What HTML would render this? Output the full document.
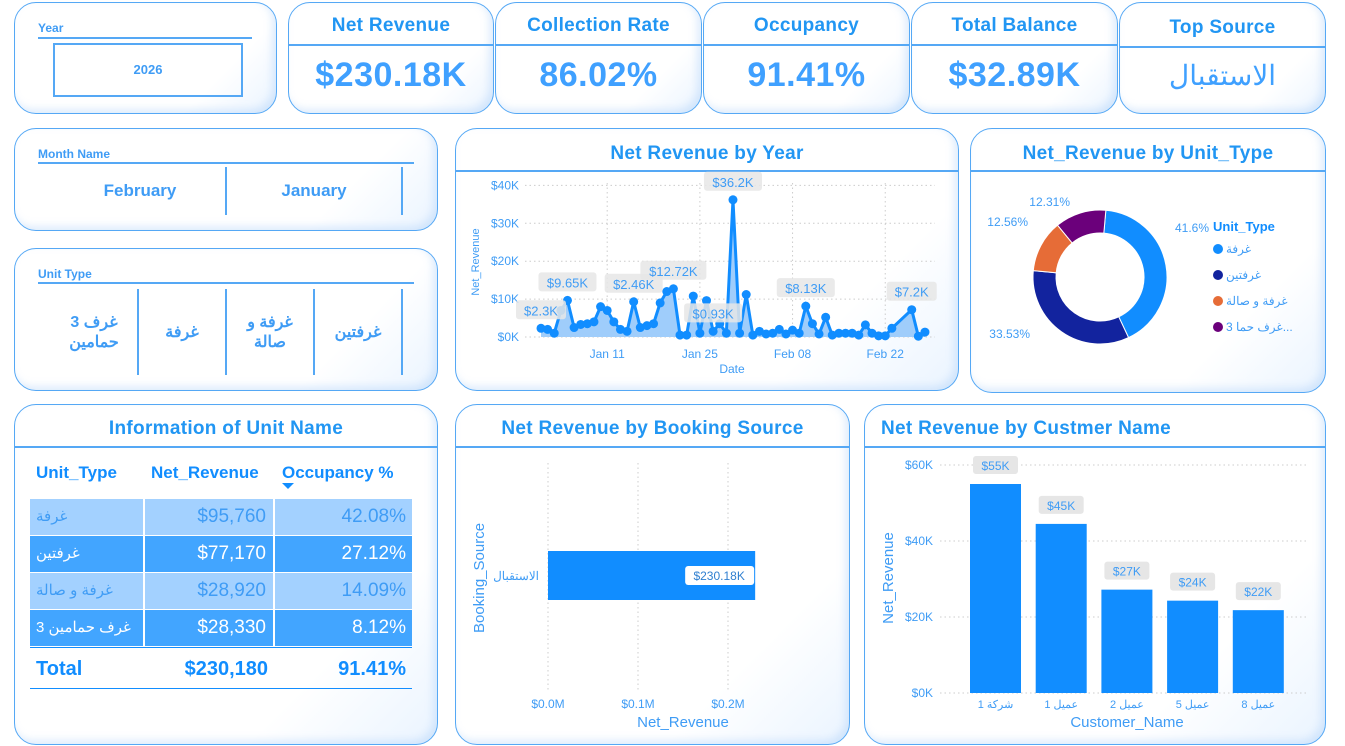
<!DOCTYPE html>
<html><head><meta charset="utf-8">
<style>
body{margin:0;width:1345px;height:746px;background:#fff;font-family:"Liberation Sans","Noto Sans CJK SC",sans-serif;overflow:hidden;position:relative}
.p{position:absolute;border:1.5px solid #55a8f5;border-radius:22px;background:linear-gradient(135deg,#fff 75%,#eaf4ff);box-shadow:inset -4px -4px 8px rgba(160,200,245,.35);box-sizing:border-box}
.ttl{position:absolute;left:0;right:0;text-align:center;font-weight:bold;color:#2196f3;font-size:19px;letter-spacing:0.3px}
.hl{position:absolute;left:0;right:0;height:1.5px;background:#55a8f5}
.kv{position:absolute;left:0;right:0;text-align:center;font-weight:bold;color:#3fa0ff;font-size:34px;letter-spacing:0.5px}
.sl{position:absolute;font-size:12px;font-weight:bold;color:#3f9cf5}
svg text{font-family:"Liberation Sans","Noto Sans CJK SC",sans-serif}
</style></head><body>

<div class="p" style="left:14px;top:2px;width:263px;height:112px">
 <div class="sl" style="left:23px;top:18px">Year</div>
 <div class="hl" style="left:23px;right:24px;top:34px"></div>
 <div style="position:absolute;left:38px;top:40px;width:190px;height:54px;border:2px solid #55a8f5;box-sizing:border-box;text-align:center;line-height:50px;font-weight:bold;font-size:13px;color:#3f9cf5">2026</div>
</div>

<div class="p" style="left:288px;top:2px;width:206px;height:112px"><div class="ttl" style="top:12px">Net Revenue</div><div class="hl" style="top:41px"></div><div class="kv" style="top:53px">$230.18K</div></div>
<div class="p" style="left:495px;top:2px;width:207px;height:112px"><div class="ttl" style="top:12px">Collection Rate</div><div class="hl" style="top:41px"></div><div class="kv" style="top:53px">86.02%</div></div>
<div class="p" style="left:703px;top:2px;width:207px;height:112px"><div class="ttl" style="top:12px">Occupancy</div><div class="hl" style="top:41px"></div><div class="kv" style="top:53px">91.41%</div></div>
<div class="p" style="left:911px;top:2px;width:207px;height:112px"><div class="ttl" style="top:12px">Total Balance</div><div class="hl" style="top:41px"></div><div class="kv" style="top:53px">$32.89K</div></div>
<div class="p" style="left:1119px;top:2px;width:207px;height:112px"><div class="ttl" style="top:14px">Top Source</div><div class="hl" style="top:43px"></div><div class="kv" style="top:56px;font-weight:normal;font-size:28px">الاستقبال</div></div>

<div class="p" style="left:14px;top:128px;width:424px;height:103px">
 <div class="sl" style="left:23px;top:18px">Month Name</div>
 <div class="hl" style="left:23px;right:23px;top:33px"></div>
 <div style="position:absolute;left:40px;top:38px;width:170px;height:48px;line-height:48px;text-align:center;font-weight:bold;font-size:17px;color:#3f9cf5;border-right:2px solid #55a8f5">February</div>
 <div style="position:absolute;left:212px;top:38px;width:174px;height:48px;line-height:48px;text-align:center;font-weight:bold;font-size:17px;color:#3f9cf5;border-right:2px solid #55a8f5">January</div>
</div>

<div class="p" style="left:14px;top:248px;width:424px;height:143px">
 <div class="sl" style="left:23px;top:18px">Unit Type</div>
 <div class="hl" style="left:23px;right:23px;top:33px"></div>
 <div style="position:absolute;left:36px;top:40px;width:86px;height:86px;display:flex;align-items:center;justify-content:center;text-align:center;font-weight:bold;font-size:16px;color:#3f9cf5;border-right:2px solid #55a8f5">غرف 3<br>حمامين</div>
 <div style="position:absolute;left:124px;top:40px;width:86px;height:86px;display:flex;align-items:center;justify-content:center;font-weight:bold;font-size:16px;color:#3f9cf5;border-right:2px solid #55a8f5">غرفة</div>
 <div style="position:absolute;left:212px;top:40px;width:86px;height:86px;display:flex;align-items:center;justify-content:center;text-align:center;font-weight:bold;font-size:16px;color:#3f9cf5;border-right:2px solid #55a8f5">غرفة و<br>صالة</div>
 <div style="position:absolute;left:300px;top:40px;width:86px;height:86px;display:flex;align-items:center;justify-content:center;font-weight:bold;font-size:16px;color:#3f9cf5;border-right:2px solid #55a8f5">غرفتين</div>
</div>

<div class="p" style="left:455px;top:128px;width:504px;height:263px">
 <div class="ttl" style="top:14px">Net Revenue by Year</div><div class="hl" style="top:41px"></div>
</div>
<div class="p" style="left:970px;top:128px;width:356px;height:265px">
 <div class="ttl" style="top:14px">Net_Revenue by Unit_Type</div><div class="hl" style="top:41px"></div>
</div>

<div class="p" style="left:14px;top:404px;width:424px;height:341px">
 <div class="ttl" style="top:13px">Information of Unit Name</div><div class="hl" style="top:41px"></div>
</div>
<div style="position:absolute;left:30px;top:458px;width:382px;font-size:19px">
 <div style="height:40px;font-weight:bold;color:#118dff;font-size:17px;position:relative">
  <span style="position:absolute;left:6px;top:5px">Unit_Type</span><span style="position:absolute;left:121px;top:5px">Net_Revenue</span><span style="position:absolute;left:252px;top:5px">Occupancy %</span>
  <span style="position:absolute;left:252px;top:25px;width:0;height:0;border-left:6px solid transparent;border-right:6px solid transparent;border-top:6px solid #118dff"></span>
 </div>
 <div id="rows"></div>
 <div style="height:1px;background:#118dff"></div>
 <div style="height:40px;position:relative;font-weight:bold;color:#118dff;font-size:20px">
  <span style="position:absolute;left:6px;top:10px">Total</span><span style="position:absolute;right:144px;top:10px">$230,180</span><span style="position:absolute;right:6px;top:10px">91.41%</span>
 </div>
 <div style="height:1px;background:#118dff"></div>
</div>

<div class="p" style="left:455px;top:404px;width:395px;height:341px">
 <div class="ttl" style="top:13px">Net Revenue by Booking Source</div><div class="hl" style="top:41px"></div>
</div>
<div class="p" style="left:864px;top:404px;width:462px;height:341px">
 <div class="ttl" style="top:13px;text-align:left;left:16px">Net Revenue by Custmer Name</div><div class="hl" style="top:41px"></div>
</div>

<svg id="svg" width="1345" height="746" style="position:absolute;left:0;top:0"></svg>

<script>
// ---- line chart data ----
const lineDays=[0,1,2,3,4,5,6,7,8,9,10,11,12,13,14,15,16,17,18,19,20,21,22,23,24,25,26,27,28,29,30,31,32,33,34,35,36,37,38,39,40,41,42,43,44,45,46,47,48,49,50,51,52,53,56,57,58];
const lineVals=[2.3,2.0,1.0,7.0,9.65,2.5,3.3,3.5,4.0,8.0,7.0,4.0,2.0,1.5,9.3,2.5,3.0,3.5,9.0,12.0,12.72,0.5,0.5,10.8,1.0,9.6,1.5,3.5,1.0,36.2,1.0,11.2,0.5,1.5,0.8,1.0,2.0,0.8,1.8,1.0,8.13,3.5,0.8,5.2,0.5,1.0,1.0,1.0,0.5,3.2,1.0,0.3,0.3,2.3,7.2,0.2,1.3];
const lineLabels=[[0,"$2.3K"],[4,"$9.65K"],[14,"$2.46K"],[20,"$12.72K"],[26,"$0.93K"],[29,"$36.2K"],[40,"$8.13K"],[54,"$7.2K"]];
const lineTicksY=[0,10,20,30,40];
const lineTicksX=[[10,"Jan 11"],[24,"Jan 25"],[38,"Feb 08"],[52,"Feb 22"]];
// ---- donut data ----
const donutCats=["غرفة","غرفتين","غرفة و صالة","غرف حما 3..."];
const donutVals=[41.6,33.53,12.56,12.31];
const donutColors=["#118dff","#12239e","#e66c37","#6b007b"];
// ---- table data ----
const tblTypes=["غرفة","غرفتين","غرفة و صالة","غرف حمامين 3"];
const tblRev=["$95,760","$77,170","$28,920","$28,330"];
const tblOcc=["42.08%","27.12%","14.09%","8.12%"];
// ---- booking data ----
const bookCats=["الاستقبال"];
const bookVals=[0.23018];
const bookTicks=[0,0.1,0.2];
// ---- customer data ----
const custCats=["شركة 1","عميل 1","عميل 2","عميل 5","عميل 8"];
const custVals=[55,44.5,27.2,24.3,21.8];
const custLabels=["$55K","$45K","$27K","$24K","$22K"];
const custTicks=[0,20,40,60];

const NS="http://www.w3.org/2000/svg";
const svg=document.getElementById('svg');
function mk(t,a,p){const e=document.createElementNS(NS,t);for(const k in a)e.setAttribute(k,a[k]);(p||svg).appendChild(e);return e;}
function tx(x,y,s,a){const e=mk('text',Object.assign({x:x,y:y,fill:'#3f9cf5','font-size':12},a||{}));e.textContent=s;return e;}

// line chart
const lx=d=>541+d*6.62, ly=v=>337-v*3.79;
lineTicksY.forEach(v=>{mk('line',{x1:525,x2:935,y1:ly(v),y2:ly(v),stroke:'#ccc','stroke-dasharray':'1.5 3'});
 const t=tx(519,ly(v)+4,'$'+v+'K',{'text-anchor':'end'});
 
 });
lineTicksX.forEach(([d,s])=>{mk('line',{x1:lx(d),x2:lx(d),y1:183,y2:337,stroke:'#ccc','stroke-dasharray':'1.5 3'});
 const t=tx(lx(d),358,s,{'text-anchor':'middle'});
 
 });
tx(732,373,'Date',{'text-anchor':'middle'});
tx(0,0,'Net_Revenue',{transform:'translate(479,262) rotate(-90)','text-anchor':'middle','font-size':11});
let pts=lineDays.map((d,i)=>lx(d)+','+ly(lineVals[i]));
const area=mk('polygon',{points:lx(lineDays[0])+','+ly(0)+' '+pts.join(' ')+' '+lx(lineDays[lineDays.length-1])+','+ly(0),fill:'#9fcdfb'});


const pl=mk('polyline',{points:pts.join(' '),fill:'none',stroke:'#118dff','stroke-width':3});


lineDays.forEach((d,i)=>{const c=mk('circle',{cx:lx(d),cy:ly(lineVals[i]),r:4.5,fill:'#118dff'});
 
 });
lineLabels.forEach(([i,s])=>{const v=lineVals[i];const x=lx(lineDays[i]),y=ly(v)-18;const w=s.length*8+10;
 mk('rect',{x:x-w/2,y:y-10,width:w,height:19,rx:3,fill:'#e6e6e6',opacity:.85});
 const t=tx(x,y+5,s,{'text-anchor':'middle','font-size':13});
 
 });

// donut
const cx=1100,cy=277,R=67,r=44;let ang=5*Math.PI/180;const tot=donutVals.reduce((a,b)=>a+b,0);
const pos=[[1175,232,'start'],[1030,338,'end'],[1028,226,'end'],[1070,206,'end']];
donutVals.forEach((v,i)=>{const a2=ang+v/tot*2*Math.PI;const p=(a,rr)=>[cx+rr*Math.sin(a),cy-rr*Math.cos(a)];
 const [x1,y1]=p(ang,R),[x2,y2]=p(a2,R),[x3,y3]=p(a2,r),[x4,y4]=p(ang,r);const lg=a2-ang>Math.PI?1:0;
 const s=mk('path',{d:`M${x1},${y1}A${R},${R} 0 ${lg} 1 ${x2},${y2}L${x3},${y3}A${r},${r} 0 ${lg} 0 ${x4},${y4}Z`,fill:donutColors[i],stroke:'#fff','stroke-width':1});
 
 
 const t=tx(pos[i][0],pos[i][1],v+'%',{'text-anchor':pos[i][2]});
 
 
 const lgy=253+i*26;
 const c=mk('circle',{cx:1218,cy:lgy-4,r:5,fill:donutColors[i]});
 
 
 const lt=tx(1226,lgy,donutCats[i],{'font-size':12});
 
 
 ang=a2;});
tx(1213,231,'Unit_Type',{'font-weight':'bold','fill':'#118dff','font-size':13});

// table rows
const rows=document.getElementById('rows');
tblTypes.forEach((t,i)=>{const dark=i%2==1;const bg=dark?'#42a5ff':'#a3d1ff';const fg=dark?'#fff':'#3f9cf5';
 const d=document.createElement('div');
 
 
 d.style.cssText=`display:flex;height:36px;margin-bottom:1px;color:${fg};font-size:19px`;
 d.innerHTML=`<div style="width:113px;background:${bg};margin-right:2px;padding-left:6px;box-sizing:border-box;line-height:36px;font-size:15px">${t}</div><div style="width:128px;background:${bg};margin-right:2px;text-align:right;padding-right:7px;box-sizing:border-box;line-height:36px">${tblRev[i]}</div><div style="flex:1;background:${bg};text-align:right;padding-right:6px;box-sizing:border-box;line-height:36px">${tblOcc[i]}</div>`;
 rows.appendChild(d);});
rows.style.marginTop='1px';

// booking bar
const bx=v=>548+v*900;
bookTicks.forEach(v=>{mk('line',{x1:bx(v),x2:bx(v),y1:463,y2:690,stroke:'#ccc','stroke-dasharray':'1.5 3'});
 const t=tx(bx(v),708,'$'+v.toFixed(1)+'M',{'text-anchor':'middle'});
 
 });
tx(0,0,'Booking_Source',{transform:'translate(484,578) rotate(-90)','text-anchor':'middle','font-size':15});
tx(683,727,'Net_Revenue',{'text-anchor':'middle','font-size':15});
bookCats.forEach((c,i)=>{const b=mk('rect',{x:bx(0),y:551,width:bx(bookVals[i])-bx(0),height:49,fill:'#118dff'});
 
 
 tx(539,580,c,{'text-anchor':'end','font-size':12});
 mk('rect',{x:bx(bookVals[i])-70,y:566,width:69,height:19,rx:3,fill:'#fff'});
 tx(bx(bookVals[i])-36,580,'$'+(bookVals[i]*1000).toFixed(2)+'K',{'text-anchor':'middle','fill':'#2f7fd0','font-size':12});});

// customer bars
const cyS=v=>693-v*3.8, cxS=i=>970+i*65.7;
custTicks.forEach(v=>{mk('line',{x1:940,x2:1307,y1:cyS(v),y2:cyS(v),stroke:'#ccc','stroke-dasharray':'1.5 3'});
 const t=tx(933,cyS(v)+4,'$'+v+'K',{'text-anchor':'end'});
 
 });
tx(0,0,'Net_Revenue',{transform:'translate(893,578) rotate(-90)','text-anchor':'middle','font-size':15});
tx(1127,727,'Customer_Name',{'text-anchor':'middle','font-size':15});
custVals.forEach((v,i)=>{const b=mk('rect',{x:cxS(i),y:cyS(v),width:51,height:cyS(0)-cyS(v),fill:'#118dff'});
 
 
 mk('rect',{x:cxS(i)+3,y:cyS(v)-28,width:45,height:18,rx:3,fill:'#e6e6e6'});
 tx(cxS(i)+25.5,cyS(v)-14,custLabels[i],{'text-anchor':'middle'});
 const t=tx(cxS(i)+25.5,708,custCats[i],{'text-anchor':'middle','font-size':11});
 
 });
</script>
</body></html>
